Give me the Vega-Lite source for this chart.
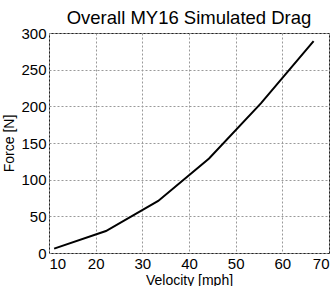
{
  "$schema": "https://vega.github.io/schema/vega-lite/v6.json",
  "autosize": {"type": "none"},
  "padding": {"left": 49, "top": 33, "right": 7, "bottom": 33},
  "width": 280,
  "height": 220,
  "background": "white",
  "title": {
    "text": "Overall MY16 Simulated Drag",
    "font": "Liberation Sans",
    "fontSize": 18.5,
    "fontWeight": "normal",
    "color": "#000",
    "anchor": "middle",
    "offset": -1
  },
  "config": {
    "view": {"stroke": "#222", "strokeWidth": 1},
    "axis": {
      "labelFont": "Liberation Sans",
      "titleFont": "Liberation Sans",
      "labelFontSize": 15,
      "titleFontSize": 14,
      "titleFontWeight": "normal",
      "labelColor": "#000",
      "titleColor": "#000",
      "domain": false,
      "grid": true,
      "gridColor": "#999",
      "gridDash": [2, 2],
      "gridWidth": 1,
      "gridOpacity": 1,
      "tickSize": 0,
      "labelPadding": 3
    }
  },
  "data": {
    "values": [
      {"v": 11.1, "f": 6},
      {"v": 22.2, "f": 30},
      {"v": 33.4, "f": 71},
      {"v": 44.3, "f": 129},
      {"v": 55.4, "f": 204},
      {"v": 66.7, "f": 289}
    ]
  },
  "mark": {"type": "line", "color": "#000", "strokeWidth": 2},
  "encoding": {
    "x": {
      "field": "v",
      "type": "quantitative",
      "scale": {"domain": [10, 70], "nice": false, "zero": false},
      "axis": {"values": [10, 20, 30, 40, 50, 60, 70], "title": "Velocity [mph]", "titlePadding": 2}
    },
    "y": {
      "field": "f",
      "type": "quantitative",
      "scale": {"domain": [0, 300], "nice": false},
      "axis": {"values": [0, 50, 100, 150, 200, 250, 300], "title": "Force [N]", "titlePadding": 4}
    }
  }
}
